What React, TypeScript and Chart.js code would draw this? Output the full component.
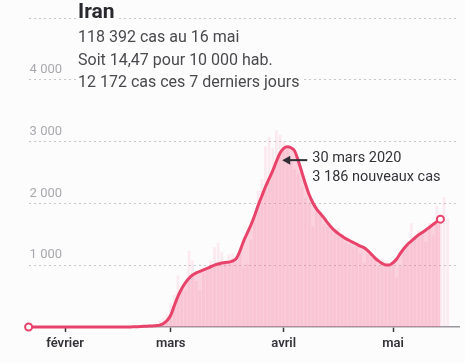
import React, { useEffect, useRef } from 'react';
import { Chart, registerables } from 'chart.js';

Chart.register(...registerables);

// Day index 0 = 22 janvier 2020
const BAR_START_DAY = 28; // 19 février 2020
// Nouveaux cas quotidiens, du 19 février au 16 mai 2020
const DAILY_CASES = [
  2, 3, 13, 10, 15, 18, 34, 44, 106, 143, 205,
  385, 523, 835, 586, 591, 1234, 1076, 743, 595, 881, 958, 1075, 1289, 1365, 1209, 1053,
  1178, 1192, 1046, 1237, 966, 1028, 1411, 1762, 2206, 2389, 2926, 3076, 2901, 3186, 3110,
  2988, 2875, 2715, 2560, 2483, 2274, 2089, 1997, 1634, 1972, 1837, 1657, 1617, 1574, 1512,
  1606, 1499, 1374, 1343, 1294, 1297, 1194, 1030, 1168, 1134, 1153, 991, 1112, 1073, 983,
  1006, 802, 976, 1223, 1323, 1680, 1485, 1556, 1529, 1383, 1683, 1481, 1958, 1808, 2102, 1757,
];

// Moyenne lissée, du 22 janvier au 14 mai
const LINE_START_DAY = 0;
const SMOOTHED_CASES = [
  0, 0, 0, 0, 0, 0, 0, 0, 0, 0,
  0, 0, 0, 0, 0, 0, 0, 0, 0, 0,
  0, 0, 0, 0, 0, 0, 0, 0, 2, 4,
  6, 9, 12, 15, 18, 22, 30, 55, 105, 190,
  350, 500, 620, 715, 790, 840, 875, 900, 925, 950,
  975, 1000, 1020, 1035, 1045, 1050, 1070, 1110, 1230, 1390,
  1520, 1650, 1800, 1970, 2120, 2270, 2400, 2530, 2680, 2815,
  2890, 2915, 2900, 2850, 2690, 2500, 2310, 2140, 2010, 1910,
  1840, 1770, 1690, 1620, 1560, 1510, 1470, 1430, 1400, 1370,
  1340, 1310, 1285, 1240, 1180, 1120, 1070, 1030, 1005, 1005,
  1040, 1100, 1190, 1270, 1340, 1390, 1440, 1490, 1530, 1570,
  1615, 1660, 1705, 1745,
];

const X_MIN_DAY = 0;
const X_MAX_DAY = 118.1;
const MONTH_TICK_DAYS = [10, 39, 70, 100];
const MONTH_LABELS = ['février', 'mars', 'avril', 'mai'];

const Y_MAX = 5000;
const Y_TICK_VALUES = [1000, 2000, 3000, 4000];
const Y_TICK_LABELS = ['1 000', '2 000', '3 000', '4 000'];

const TITLE = 'Iran';
const SUBTITLE_LINES = [
  '118 392 cas au 16 mai',
  'Soit 14,47 pour 10 000 hab.',
  '12 172 cas ces 7 derniers jours',
];

const ANNOTATION_LINES = ['30 mars 2020', '3 186 nouveaux cas'];
const ANNOTATION_TIP_DAY = 69.6;
const ANNOTATION_TIP_VALUE = 2700;

const BG = '#fcfcfd';
const RED = '#e8436b';
const FONT = 'Roboto, "Noto Sans", sans-serif';

const overlayPlugin = {
  id: 'overlay',
  beforeDraw(chart: any) {
    const ctx = chart.ctx;
    ctx.save();
    ctx.fillStyle = BG;
    ctx.fillRect(0, 0, chart.width, chart.height);
    ctx.restore();
  },
  afterDatasetsDraw(chart: any) {
    const ctx = chart.ctx;
    ctx.save();
    ctx.textBaseline = 'alphabetic';
    ctx.textAlign = 'left';

    const drawWithBg = (text: string, x: number, base: number, font: string, color: string, asc: number, desc: number) => {
      ctx.font = font;
      const w = ctx.measureText(text).width;
      ctx.fillStyle = BG;
      ctx.fillRect(x - 2, base - asc, w + 4, asc + desc);
      ctx.fillStyle = color;
      ctx.fillText(text, x, base);
    };

    drawWithBg(TITLE, 78, 18, `bold 21px ${FONT}`, '#2a2a2e', 18, 5);
    const bases = [42, 65, 87];
    SUBTITLE_LINES.forEach((t, i) => {
      drawWithBg(t, 78, bases[i], `16px ${FONT}`, '#4a4a4e', 13, 5);
    });

    // annotation
    const xs = chart.scales.x;
    const ys = chart.scales.y;
    const tx = xs.getPixelForValue(ANNOTATION_TIP_DAY);
    const ty = ys.getPixelForValue(ANNOTATION_TIP_VALUE);
    ctx.strokeStyle = '#2f2f35';
    ctx.fillStyle = '#2f2f35';
    ctx.lineWidth = 2;
    ctx.beginPath();
    ctx.moveTo(tx + 6, ty);
    ctx.lineTo(tx + 25, ty);
    ctx.stroke();
    ctx.beginPath();
    ctx.moveTo(tx, ty);
    ctx.lineTo(tx + 8, ty - 4.5);
    ctx.lineTo(tx + 8, ty + 4.5);
    ctx.closePath();
    ctx.fill();

    ctx.font = `14.5px ${FONT}`;
    ctx.fillStyle = '#333338';
    ctx.textBaseline = 'middle';
    ctx.fillText(ANNOTATION_LINES[0], tx + 30, ty - 2);
    ctx.fillText(ANNOTATION_LINES[1], tx + 30, ty + 17);
    ctx.restore();
  },
};

export default function App() {
  const ref = useRef<HTMLCanvasElement | null>(null);

  useEffect(() => {
    if (!ref.current) return;
    const lastIdx = SMOOTHED_CASES.length - 1;
    const chart = new Chart(ref.current, {
      type: 'bar',
      data: {
        datasets: [
          {
            type: 'line',
            data: SMOOTHED_CASES.map((v, i) => ({ x: LINE_START_DAY + i, y: v })),
            borderColor: RED,
            borderWidth: 3,
            fill: 'origin',
            backgroundColor: 'rgba(244,110,145,0.3)',
            cubicInterpolationMode: 'monotone',
            pointRadius: (c: any) => (c.dataIndex === 0 || c.dataIndex === lastIdx ? 3.5 : 0),
            pointHoverRadius: 0,
            pointBorderWidth: 2,
            pointBorderColor: RED,
            pointBackgroundColor: '#ffffff',
            clip: false,
            order: 1,
          } as any,
          {
            type: 'bar',
            data: DAILY_CASES.map((v, i) => ({ x: BAR_START_DAY + i, y: v })),
            backgroundColor: 'rgba(244,110,145,0.12)',
            borderWidth: 0,
            barPercentage: 0.78,
            categoryPercentage: 1,
            order: 2,
          } as any,
        ],
      },
      options: {
        responsive: false,
        animation: false,
        events: [],
        layout: { padding: { left: 28.6, right: 6, top: 18, bottom: 0 } },
        plugins: { legend: { display: false }, tooltip: { enabled: false } },
        scales: {
          x: {
            type: 'linear',
            min: X_MIN_DAY,
            max: X_MAX_DAY,
            offset: false,
            afterFit: (s: any) => {
              s.height = 36;
            },
            afterBuildTicks: (s: any) => {
              s.ticks = MONTH_TICK_DAYS.map((v) => ({ value: v }));
            },
            grid: {
              offset: false,
              drawOnChartArea: false,
              drawTicks: true,
              tickLength: 5,
              tickColor: '#3a3a40',
              tickWidth: 1.5,
            },
            border: { display: true, color: '#9a9a9e', width: 1.5 },
            ticks: {
              autoSkip: false,
              maxRotation: 0,
              padding: 4,
              color: '#333338',
              font: { family: FONT, size: 13, weight: 600 },
              callback: (v: any) => {
                const i = MONTH_TICK_DAYS.indexOf(Number(v));
                return i >= 0 ? MONTH_LABELS[i] : '';
              },
            },
          },
          y: {
            type: 'linear',
            min: 0,
            max: Y_MAX,
            afterFit: (s: any) => {
              s.width = 0;
            },
            grid: {
              drawTicks: false,
              lineWidth: 1,
              color: (c: any) => (c.tick && c.tick.value > 0 ? '#c6c6cb' : 'rgba(0,0,0,0)'),
            },
            border: { display: false, dash: [2, 3] },
            ticks: {
              stepSize: 1000,
              mirror: true,
              padding: 1,
              labelOffset: -10,
              color: '#a9a9ae',
              font: { family: FONT, size: 13 },
              callback: (v: any) => {
                const i = Y_TICK_VALUES.indexOf(Number(v));
                return i >= 0 ? Y_TICK_LABELS[i] : '';
              },
            },
          },
        },
      },
      plugins: [overlayPlugin],
    } as any);
    return () => chart.destroy();
  }, []);

  return (
    <div style={{ position: 'absolute', left: 0, top: 0, width: 465, height: 363, background: BG }}>
      <canvas ref={ref} width={465} height={363} style={{ display: 'block' }} />
    </div>
  );
}
